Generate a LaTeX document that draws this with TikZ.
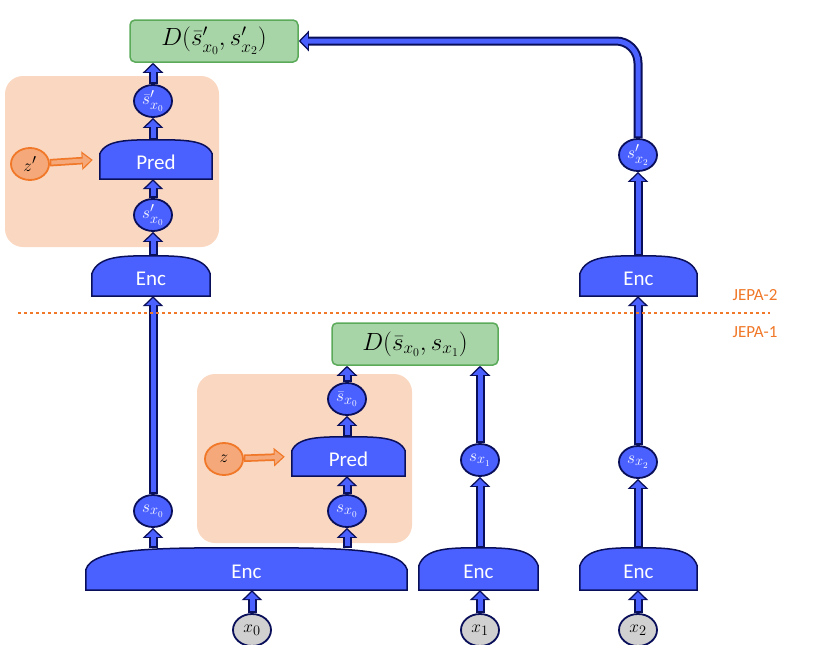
\documentclass[tikz,border=0pt]{standalone}
\usepackage{fontspec}
\setmainfont{Carlito}
\usetikzlibrary{arrows.meta,positioning,shapes.geometric}
\definecolor{encblue}{HTML}{4A60FF}
\definecolor{encline}{HTML}{0A0F5A}
\definecolor{peach}{HTML}{FAD7C0}
\definecolor{zfill}{HTML}{F5A97A}
\definecolor{zline}{HTML}{F07828}
\definecolor{dfill}{HTML}{A8D5A8}
\definecolor{dline}{HTML}{5AAA5A}
\definecolor{xfill}{HTML}{D0D0D0}
\pgfdeclarelayer{back}
\pgfdeclarelayer{mid}
\pgfsetlayers{back,mid,main}

% dome shaped block: name, rise, control, label
\newcommand{\dome}[4]{%
	\draw[encline, fill=encblue, line width=1.5pt] (#1.south west) -- ([yshift=-#2]#1.north west)
		.. controls ([xshift=6]#1.north west) and ([xshift=-#3]#1.north) .. (#1.north)
		.. controls ([xshift=#3]#1.north) and ([xshift=-6]#1.north east) .. ([yshift=-#2]#1.north east)
		-- (#1.south east) -- cycle;
	\node[font=\fontsize{21}{21}\selectfont, text=white] at ([yshift=-3]#1.center) {#4};}

\begin{document}
\begin{tikzpicture}[x=1pt, y=-1pt,
	box/.style={minimum width=#1, minimum height=40, inner sep=0},
	st/.style={ellipse, draw=encline, fill=encblue, line width=1.8pt, text=white, minimum width=38, minimum height=32, inner sep=0, font=\fontsize{19}{19}\selectfont},
	inp/.style={st, fill=xfill, text=black},
	zn/.style={st, draw=zline, fill=zfill, text=black},
	dbox/.style={rectangle, rounded corners=5, draw=dline, fill=dfill, line width=1.5pt, minimum width=166, minimum height=42, font=\fontsize{23}{23}\selectfont},
	barrow/.style={encblue, line width=5pt, shorten >=2pt, shorten <=1.8pt, -{Triangle[length=7pt,width=14pt]},
		preaction={draw=encline, line width=9pt, shorten >=0pt, shorten <=0pt, -{Triangle[length=10pt,width=20pt]}}},
	zarrow/.style={zfill, line width=4pt, shorten >=9pt, shorten <=1.5pt, -{Triangle[length=8pt,width=13pt]},
		preaction={draw=zline, line width=7.5pt, shorten >=7pt, shorten <=0pt, -{Triangle[length=11pt,width=18pt]}}},
	JEPA/.style={text=zline, font=\fontsize{17}{17}\selectfont}]
	\useasboundingbox (0,0) rectangle (830,645);
	
	\begin{pgfonlayer}{back}
		\fill[peach, rounded corners=18] (5,76) rectangle (219,247);
		\fill[peach, rounded corners=18] (197,374) rectangle (412,543);
	\end{pgfonlayer}
	
	% JEPA-1
	\node[box=321, minimum height=42] (encA) at (246.5,569) {};
	\node[box=119, minimum height=42] (encB) at (478.5,569) {};
	\node[box=117, minimum height=42] (encC) at (638.5,569) {};
	\dome{encA}{22}{90}{Enc}
	\dome{encB}{18}{28}{Enc}
	\dome{encC}{18}{28}{Enc}
	\node[inp] (x0) at (252,630) {$x_0$};
	\node[inp] (x1) at (480,630) {$x_1$};
	\node[inp] (x2) at (638,630) {$x_2$};
	\node[st] (sL) at (153,511) {$s_{x_0}$};
	\node[st] (sR) at (347,511) {$s_{x_0}$};
	\node[st] (s1) at (480,460) {$s_{x_1}$};
	\node[st] (s2) at (638,462) {$s_{x_2}$};
	\node[box=113, minimum height=39] (pred) at (348.5,456.5) {};
	\dome{pred}{14}{28}{Pred}
	\node[st] (sb) at (347,399) {$\bar{s}_{x_0}$};
	\node[zn] (z) at (224,459) {$z$};
	\node[dbox] (dA) at (415,344) {$D(\bar{s}_{x_0},s_{x_1})$};
	
	% JEPA-2
	\node[box=118] (encU) at (151,276) {};
	\node[box=117] (encV) at (638.5,276) {};
	\dome{encU}{18}{28}{Enc}
	\dome{encV}{18}{28}{Enc}
	\node[st] (sp) at (153,215) {$s'_{x_0}$};
	\node[box=112, minimum height=39] (predU) at (156,159.5) {};
	\dome{predU}{14}{28}{Pred}
	\node[st] (sbp) at (153,101) {$\bar{s}'_{x_0}$};
	\node[zn] (zp) at (30,164) {$z'$};
	\node[st] (sp2) at (638,155) {$s'_{x_2}$};
	\node[dbox, minimum width=168] (dB) at (214,41) {$D(\bar{s}'_{x_0},s'_{x_2})$};
	
	\draw[zline, dashed, line width=1.5pt] (18,313) -- (770,313);
	\node[JEPA] (j2) at (755,295) {JEPA-2};
	\node[JEPA] (j1) at (755,332) {JEPA-1};
	
	\begin{pgfonlayer}{mid}
		\draw[barrow] (x0) -- (x0 |- encA.south);
		\draw[barrow] (x1) -- (x1 |- encB.south);
		\draw[barrow] (x2) -- (x2 |- encC.south);
		\draw[barrow] (sL |- encA.north) -- (sL);
		\draw[barrow] (sR |- encA.north) -- (sR);
		\draw[barrow] (s1 |- encB.north) -- (s1);
		\draw[barrow] (s2 |- encC.north) -- (s2);
		\draw[barrow] (sR) -- (sR |- pred.south);
		\draw[barrow] (sb |- pred.north) -- (sb);
		\draw[barrow] (sb) -- (sb |- dA.south);
		\draw[barrow] (s1) -- (s1 |- dA.south);
		\draw[zarrow] (z) -- (pred.west);
		\draw[barrow] (sL) -- (sL |- encU.south);
		\draw[barrow] (s2) -- (s2 |- encV.south);
		\draw[barrow] (sp |- encU.north) -- (sp);
		\draw[barrow] (sp) -- (sp |- predU.south);
		\draw[barrow] (sbp |- predU.north) -- (sbp);
		\draw[barrow] (sbp) -- (sbp |- dB.south);
		\draw[zarrow] (zp) -- (predU.west);
		\draw[barrow] (sp2 |- encV.north) -- (sp2);
		\draw[barrow, rounded corners=22] (sp2) |- (dB.east);
	\end{pgfonlayer}
\end{tikzpicture}
\end{document}
